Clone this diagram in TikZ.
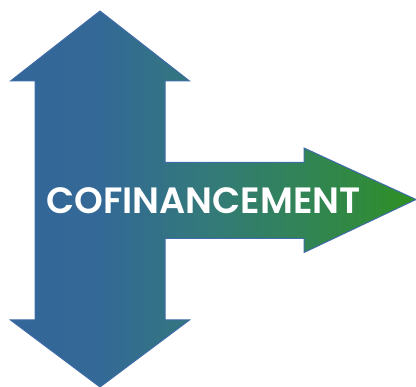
\documentclass[tikz,border=0pt]{standalone}
\usepackage{fontspec}
\setmainfont{Poppins}[BoldFont={Poppins SemiBold}]
\definecolor{edgeblue}{HTML}{3F6CA8}
\pgfdeclarehorizontalshading{arrowgradb}{100bp}{
  rgb(0bp)=(0.20,0.40,0.60);
  rgb(25bp)=(0.20,0.40,0.60);
  rgb(36bp)=(0.20,0.41,0.59);
  rgb(50bp)=(0.20,0.48,0.47);
  rgb(68bp)=(0.19,0.54,0.25);
  rgb(75bp)=(0.18,0.565,0.125);
  rgb(100bp)=(0.18,0.565,0.125)}
\tikzset{
  arrowshape/.style={draw=edgeblue,line width=1pt,line join=miter,shading=arrowgradb},
  caption/.style={text=white,font=\bfseries\fontsize{36.6pt}{42pt}\selectfont,inner sep=0pt,anchor=center}
}
\begin{document}
\begin{tikzpicture}[x=1pt,y=-1pt]
\useasboundingbox (0,0) rectangle (416,387);
\path[arrowshape] (100,11) -- (189.5,81) -- (165,81) -- (165,162.5) -- (304,162.5) -- (304,148)
  -- (416,199.5) -- (304,252.5) -- (304,238.5) -- (165,238.5) -- (165,320) -- (189.5,320)
  -- (100,387) -- (10.5,320) -- (35,320) -- (35,81) -- (10.5,81) -- cycle;
\node[caption] (label) at (203.5,200.5) {COFINANCEMENT};
\end{tikzpicture}
\end{document}
